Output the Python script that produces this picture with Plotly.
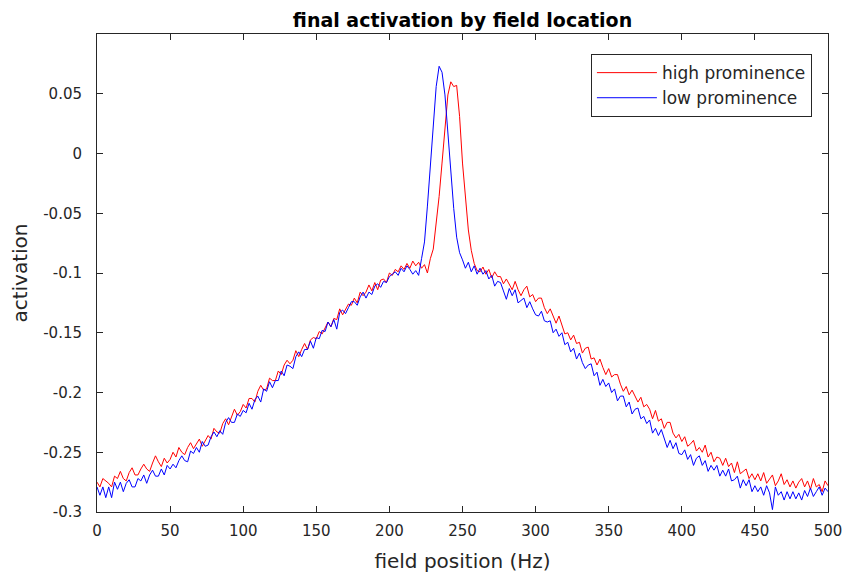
import plotly.graph_objects as go

field_hz = list(range(0, 501, 2))

high_prominence = [
    -0.275, -0.279, -0.272, -0.274, -0.276, -0.279, -0.270, -0.272, -0.266, -0.272, -0.274, -0.267, -0.263,
    -0.269, -0.269, -0.264, -0.260, -0.264, -0.266, -0.259, -0.253, -0.258, -0.262, -0.255, -0.259, -0.256,
    -0.250, -0.254, -0.246, -0.250, -0.252, -0.246, -0.242, -0.247, -0.243, -0.239, -0.245, -0.240,
    -0.236, -0.239, -0.230, -0.233, -0.234, -0.226, -0.222, -0.227, -0.221, -0.214, -0.219, -0.216, -0.210,
    -0.213, -0.205, -0.205, -0.208, -0.199, -0.194, -0.198, -0.197, -0.188, -0.190, -0.190, -0.182,
    -0.185, -0.177, -0.173, -0.176, -0.173, -0.165, -0.170, -0.164, -0.159, -0.164, -0.156, -0.154, -0.155,
    -0.149, -0.151, -0.146, -0.141, -0.145, -0.138, -0.139, -0.130, -0.135, -0.131, -0.126, -0.127,
    -0.121, -0.125, -0.116, -0.119, -0.116, -0.110, -0.115, -0.108, -0.114, -0.106, -0.105, -0.108, -0.100,
    -0.102, -0.097, -0.099, -0.094, -0.097, -0.092, -0.096, -0.090, -0.094, -0.091, -0.096, -0.093, -0.100,
    -0.088, -0.080, -0.060, -0.036, -0.008, 0.024, 0.049, 0.060, 0.056, 0.057, 0.031, -0.008,
    -0.040, -0.064, -0.081, -0.092, -0.098,
    -0.099, -0.095, -0.101, -0.097, -0.104, -0.099, -0.103,
    -0.103, -0.109, -0.105, -0.109, -0.114, -0.107, -0.114, -0.119, -0.114, -0.111, -0.120, -0.118, -0.124,
    -0.121, -0.121, -0.129, -0.134, -0.130, -0.136, -0.142, -0.136, -0.143, -0.151, -0.150, -0.156,
    -0.152, -0.159, -0.158, -0.167, -0.163, -0.162, -0.172, -0.171, -0.177, -0.172, -0.179, -0.185, -0.180,
    -0.187, -0.185, -0.185, -0.193, -0.199, -0.195, -0.202, -0.198, -0.203, -0.208, -0.204, -0.212,
    -0.210, -0.214, -0.222, -0.215, -0.224, -0.222, -0.230, -0.225, -0.225, -0.234, -0.238, -0.235, -0.241,
    -0.237, -0.245, -0.243, -0.240, -0.249, -0.246, -0.250, -0.244, -0.254, -0.250, -0.258, -0.254,
    -0.255, -0.261, -0.255, -0.262, -0.259, -0.267, -0.258, -0.268, -0.266, -0.264, -0.272, -0.268, -0.273,
    -0.268, -0.274, -0.267, -0.276, -0.272, -0.269, -0.278, -0.274, -0.268, -0.277, -0.273, -0.279,
    -0.274, -0.280, -0.275, -0.272, -0.279, -0.274, -0.281, -0.272, -0.279, -0.277, -0.283, -0.274, -0.278,
]

low_prominence = [
    -0.279, -0.286, -0.279, -0.288, -0.279, -0.288, -0.275, -0.281, -0.275, -0.283, -0.276, -0.273, -0.279,
    -0.279, -0.272, -0.274, -0.269, -0.276, -0.269, -0.265, -0.270, -0.270, -0.264, -0.269, -0.261, -0.264,
    -0.260, -0.263, -0.257, -0.253, -0.257, -0.258, -0.249, -0.251, -0.246, -0.250, -0.241, -0.245,
    -0.244, -0.237, -0.233, -0.237, -0.232, -0.235, -0.225, -0.221, -0.225, -0.225, -0.218, -0.220, -0.215,
    -0.217, -0.209, -0.214, -0.206, -0.203, -0.208, -0.197, -0.199, -0.191, -0.196, -0.190, -0.190,
    -0.182, -0.186, -0.177, -0.178, -0.180, -0.170, -0.166, -0.170, -0.164, -0.164, -0.157, -0.163, -0.154,
    -0.155, -0.148, -0.149, -0.141, -0.145, -0.139, -0.147, -0.133, -0.131, -0.134, -0.129, -0.124,
    -0.124, -0.127, -0.120, -0.116, -0.121, -0.116, -0.118, -0.111, -0.109, -0.112, -0.107, -0.108, -0.103,
    -0.101, -0.099, -0.102, -0.096, -0.099, -0.094, -0.097, -0.101, -0.098, -0.102,
    -0.088, -0.074, -0.044, -0.012, 0.025, 0.056, 0.073, 0.068, 0.049, 0.018, -0.016, -0.046, -0.070, -0.083, -0.089,
    -0.096, -0.091, -0.099, -0.094, -0.101, -0.096, -0.101,
    -0.098, -0.105, -0.102, -0.111, -0.107, -0.108, -0.115, -0.122, -0.113, -0.119, -0.114, -0.125, -0.123,
    -0.121, -0.129, -0.124, -0.130, -0.135,
    -0.136, -0.132, -0.140, -0.141, -0.140, -0.150, -0.147, -0.153, -0.150, -0.160, -0.158, -0.166,
    -0.163, -0.172, -0.167, -0.175, -0.180, -0.177, -0.176, -0.186, -0.183, -0.194, -0.189, -0.195, -0.192,
    -0.200, -0.197, -0.207, -0.203, -0.203, -0.212, -0.208, -0.218, -0.214, -0.213, -0.222, -0.220,
    -0.226, -0.223, -0.234, -0.230, -0.236, -0.231, -0.239, -0.246, -0.240, -0.247, -0.242, -0.251, -0.252,
    -0.248, -0.256, -0.252, -0.261, -0.255, -0.253, -0.261, -0.257, -0.266, -0.261, -0.265, -0.261,
    -0.270, -0.265, -0.270, -0.264, -0.274, -0.273, -0.270, -0.280, -0.273, -0.278, -0.273, -0.283, -0.278,
    -0.283, -0.279, -0.286, -0.278, -0.284, -0.298, -0.279, -0.286, -0.283, -0.290, -0.283, -0.289,
    -0.283, -0.289, -0.284, -0.290, -0.282, -0.287, -0.280, -0.287, -0.283, -0.279, -0.286, -0.280, -0.283,
]

x_ticks = [0, 50, 100, 150, 200, 250, 300, 350, 400, 450, 500]
y_ticks = [-0.3, -0.25, -0.2, -0.15, -0.1, -0.05, 0, 0.05]
y_tick_text = ["-0.3", "-0.25", "-0.2", "-0.15", "-0.1", "-0.05", "0", "0.05"]

FONT = "DejaVu Sans, Liberation Sans, Arial, sans-serif"

fig = go.Figure()
fig.add_trace(go.Scatter(x=field_hz, y=high_prominence, mode="lines", name="high prominence",
                         line=dict(color="#ff0000", width=1)))
fig.add_trace(go.Scatter(x=field_hz, y=low_prominence, mode="lines", name="low prominence",
                         line=dict(color="#0000ff", width=1)))

axis_common = dict(showline=True, linecolor="#262626", linewidth=1, mirror="allticks",
                   ticks="inside", ticklen=6, tickcolor="#262626", showgrid=False, zeroline=False,
                   automargin=False,
                   tickfont=dict(family=FONT, size=15, color="#262626"))

fig.update_layout(
    width=848, height=584,
    paper_bgcolor="white", plot_bgcolor="white",
    margin=dict(l=97, r=20, t=34, b=72),
    font=dict(family=FONT, color="#262626"),
    title=dict(text="<b>final activation by field location</b>", x=0.5, xanchor="center",
               xref="paper", y=0.966, yanchor="middle",
               font=dict(family=FONT, size=19, color="black")),
    xaxis=dict(range=[0, 500], tickvals=x_ticks, ticklabelstandoff=5,
               title=dict(text="field position (Hz)", font=dict(family=FONT, size=20, color="#262626"),
                          standoff=14),
               **axis_common),
    yaxis=dict(range=[-0.3, 0.1], tickvals=y_ticks, ticktext=y_tick_text, ticklabelstandoff=11,
               title=dict(text="activation", font=dict(family=FONT, size=20, color="#262626"),
                          standoff=10),
               **axis_common),
    legend=dict(x=0.978, xanchor="right", y=0.958, yanchor="top", itemwidth=60,
                bordercolor="#262626", borderwidth=1, bgcolor="white",
                font=dict(family=FONT, size=17, color="#262626"), tracegroupgap=0),
    showlegend=True,
)

fig.write_html("out.html", config={"displayModeBar": False},
               post_script="document.body.style.margin='0px';")
